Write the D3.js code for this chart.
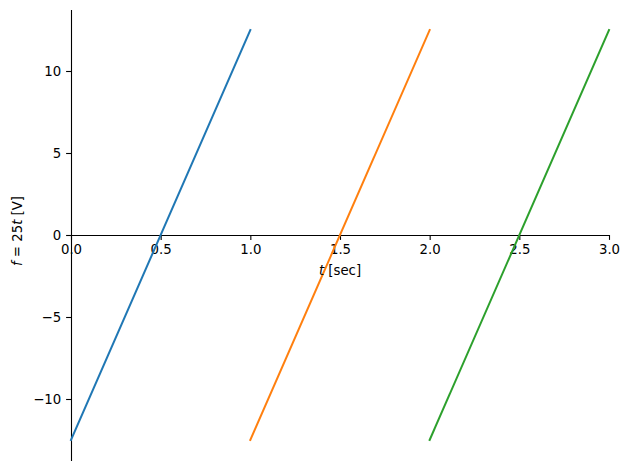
<!DOCTYPE html>
<html><head><meta charset="utf-8">
<script src="https://cdn.jsdelivr.net/npm/d3@7"></script>
<style>body{margin:0;background:#fff}svg{display:block}text{font-family:"DejaVu Sans",sans-serif}</style>
</head><body>
<svg id="c" width="630" height="470"></svg>
<script>
// data: sawtooth segments f = 25t - 12.5 shifted per period
const segT0 = [0, 1, 2];
const segT1 = [1, 2, 3];
const segV0 = [-12.5, -12.5, -12.5];
const segV1 = [12.5, 12.5, 12.5];
const colors = ["#1f77b4", "#ff7f0e", "#2ca02c"];
const xTicks = [0, 0.5, 1, 1.5, 2, 2.5, 3];
const yTicks = [-10, -5, 0, 5, 10];

const svg = d3.select("#c");
const L = 71, R = 609, T = 9.5, B = 460.5;
const x = d3.scaleLinear().domain([0, 3]).range([L, R]);
const y = d3.scaleLinear().domain([-13.75, 13.75]).range([B, T]);

const fs = 13.3;
// x axis at y=0
const xa = svg.append("g").attr("transform", `translate(0,${y(0)})`)
  .call(d3.axisBottom(x).tickValues(xTicks).tickFormat(d3.format(".1f")).tickSizeOuter(0).tickSizeInner(4.9).tickPadding(4.9));
const ya = svg.append("g").attr("transform", `translate(${x(0)},0)`)
  .call(d3.axisLeft(y).tickValues(yTicks).tickFormat(d => d < 0 ? "\u2212" + Math.abs(d) : d).tickSizeOuter(0).tickSizeInner(4.9).tickPadding(4.9));
[xa, ya].forEach(g => {
  g.selectAll("text").attr("font-size", fs).attr("font-family", "DejaVu Sans").attr("fill", "#000");
  g.selectAll("line").attr("stroke", "#000").attr("stroke-width", 1.1);
  g.select(".domain").attr("stroke", "#000").attr("stroke-width", 1.1);
});

// lines
const line = d3.line().x(d => x(d[0])).y(d => y(d[1]));
segT0.forEach((t0, i) => {
  svg.append("path").datum([[t0, segV0[i]], [segT1[i], segV1[i]]])
    .attr("d", line).attr("fill", "none").attr("stroke", colors[i])
    .attr("stroke-width", 2).attr("stroke-linecap", "square");
});

// labels
const xl = svg.append("text").attr("x", (L + R) / 2).attr("y", 275).attr("text-anchor", "middle").attr("font-size", fs);
xl.append("tspan").attr("font-style", "italic").text("t");
xl.append("tspan").text(" [sec]");
const yl = svg.append("text").attr("transform", `translate(22,231) rotate(-90)`).attr("text-anchor", "middle").attr("font-size", fs);
yl.append("tspan").attr("font-style", "italic").text("f");
yl.append("tspan").text(" = 25");
yl.append("tspan").attr("font-style", "italic").text("t");
yl.append("tspan").text(" [V]");
</script>
</body></html>
